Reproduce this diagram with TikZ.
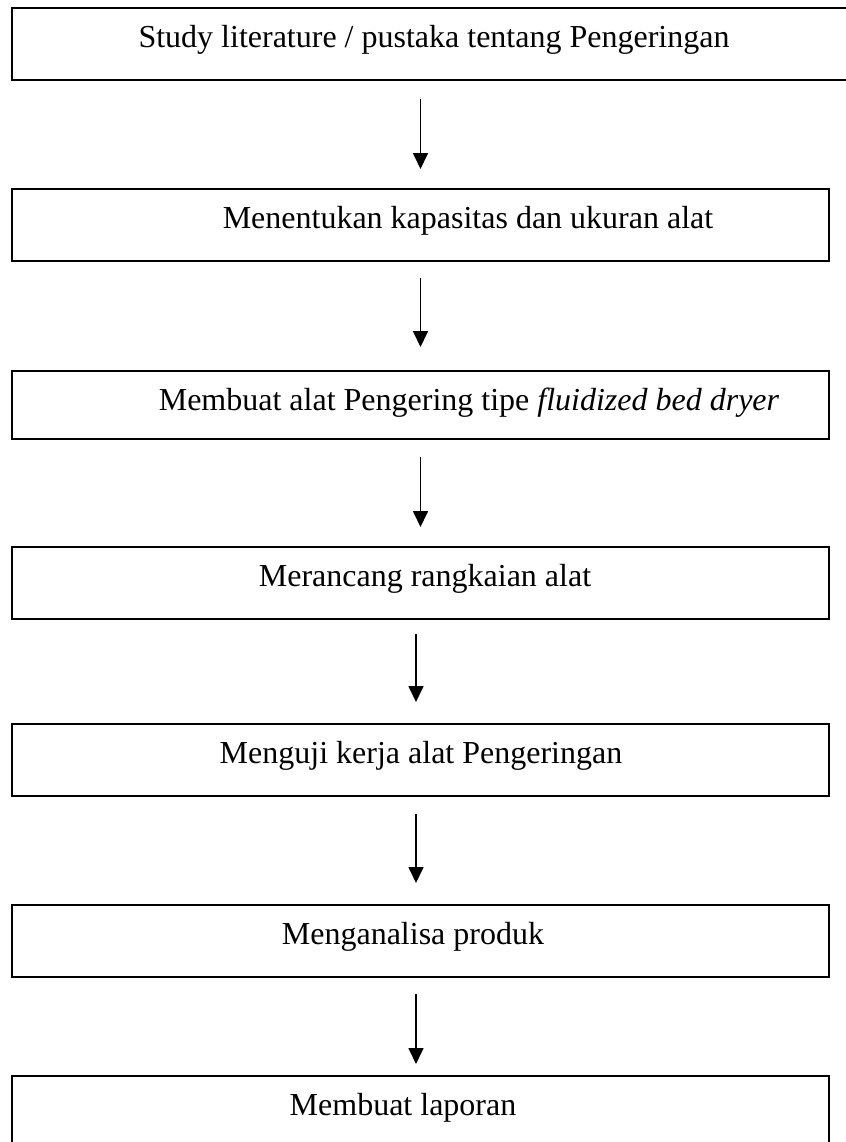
\documentclass[tikz,border=0pt]{standalone}
\usepackage{fontspec}
\setmainfont{Liberation Serif}
\usetikzlibrary{arrows.meta}

\tikzset{
  stepbox/.style={draw, line width=1pt, minimum width=408.5pt, minimum height=36pt, inner sep=0pt, anchor=north},
  steptext/.style={anchor=base, inner sep=0pt, font=\fontsize{16}{19}\selectfont},
  flow/.style={-{Triangle[width=7.5pt, length=8pt]}, line width=0.85pt},
}

\begin{document}
\begin{tikzpicture}[x=0.5pt, y=-0.5pt]
  \clip (0,0) rectangle (846,1142);
  % boxes
  \node[stepbox, minimum width=429pt] (s1) at (441,7) {};
  \node[steptext] (t1) at (434,47) {Study literature / pustaka tentang Pengeringan};
  \node[stepbox] (s2) at (420.5,188) {};
  \node[steptext] (t2) at (468,228) {Menentukan kapasitas dan ukuran alat};
  \node[stepbox, minimum height=34pt] (s3) at (420.5,370) {};
  \node[steptext] (t3) at (469,410) {Membuat alat Pengering tipe \textit{fluidized bed dryer}};
  \node[stepbox] (s4) at (420.5,546) {};
  \node[steptext] (t4) at (425,586) {Merancang rangkaian alat};
  \node[stepbox] (s5) at (420.5,723) {};
  \node[steptext] (t5) at (421,763) {Menguji kerja alat Pengeringan};
  \node[stepbox] (s6) at (420.5,904) {};
  \node[steptext] (t6) at (413,944) {Menganalisa produk};
  \node[stepbox] (s7) at (420.5,1075) {};
  \node[steptext] (t7) at (403,1115) {Membuat laporan};
  % arrows
  \draw[flow, shorten <=9pt, shorten >=9.5pt] (s1.south -| s2.north) -- (s2.north);
  \draw[flow, shorten <=8pt, shorten >=11.5pt] (s2.south) -- (s3.north);
  \draw[flow, shorten <=8.5pt, shorten >=9.5pt] (s3.south) -- (s4.north);
  \draw[flow, shorten <=7pt, shorten >=10.5pt] ([xshift=-2.25pt]s4.south) -- ([xshift=-2.25pt]s5.north);
  \draw[flow, shorten <=8.5pt, shorten >=10.5pt] ([xshift=-2.25pt]s5.south) -- ([xshift=-2.25pt]s6.north);
  \draw[flow, shorten <=8pt, shorten >=5.5pt] ([xshift=-2.25pt]s6.south) -- ([xshift=-2.25pt]s7.north);
\end{tikzpicture}
\end{document}
